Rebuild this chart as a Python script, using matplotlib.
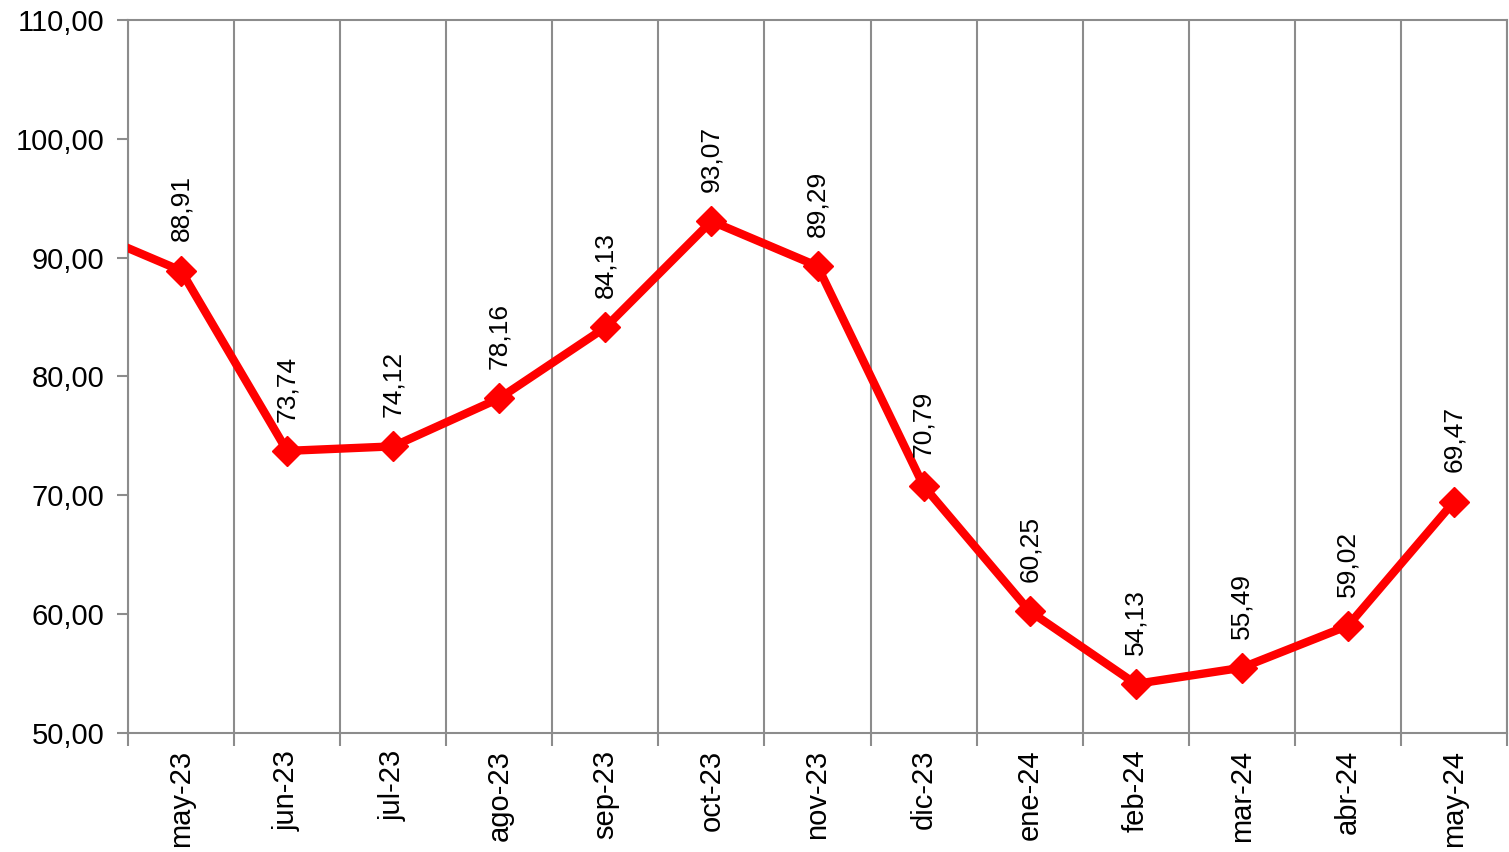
import matplotlib.pyplot as plt
from matplotlib.ticker import FixedLocator, FuncFormatter

plt.rcParams['font.family'] = ['Liberation Sans', 'DejaVu Sans']

# Meses mostrados (el punto previo abr-23 queda recortado en el borde izquierdo)
months = ['may-23', 'jun-23', 'jul-23', 'ago-23', 'sep-23', 'oct-23', 'nov-23',
          'dic-23', 'ene-24', 'feb-24', 'mar-24', 'abr-24', 'may-24']
values = [88.91, 73.74, 74.12, 78.16, 84.13, 93.07, 89.29,
          70.79, 60.25, 54.13, 55.49, 59.02, 69.47]
prev_value = 92.7  # abr-23, fuera del rango visible

grey = '#8c8c8c'
red = '#ff0000'

fig = plt.figure(figsize=(15.09, 8.52), dpi=100)
ax = fig.add_axes([0.0848, 0.1397, 0.9139, 0.8368])

xs = list(range(-1, len(months)))
ys = [prev_value] + values
ax.plot(xs, ys, color=red, linewidth=6, marker='D', markersize=15,
        solid_joinstyle='round', clip_on=True, zorder=3)

for i, v in enumerate(values):
    ax.annotate(f'{v:.2f}'.replace('.', ','), (i, v), xytext=(0, 21),
                textcoords='offset points', rotation=90, ha='center',
                va='bottom', fontsize=19)

ax.set_xlim(-0.5, len(months) - 0.5)
ax.set_ylim(50, 110)
ax.set_yticks(range(50, 111, 10))
ax.yaxis.set_major_formatter(FuncFormatter(lambda v, p: f'{v:.2f}'.replace('.', ',')))

ax.set_xticks(range(len(months)))
ax.set_xticklabels(months, rotation=90, fontsize=21)
ax.xaxis.set_minor_locator(FixedLocator([i + 0.5 for i in range(-1, len(months))]))
ax.tick_params(axis='x', which='major', length=0, pad=12)
ax.tick_params(axis='x', which='minor', length=9, width=1.5, color=grey)
ax.tick_params(axis='y', length=8, width=1.5, color=grey, labelsize=21, pad=9)

ax.grid(axis='x', which='minor', color=grey, linewidth=1.5)
for s in ax.spines.values():
    s.set_color(grey)
    s.set_linewidth(1.5)

plt.savefig('out.png', dpi=100)
